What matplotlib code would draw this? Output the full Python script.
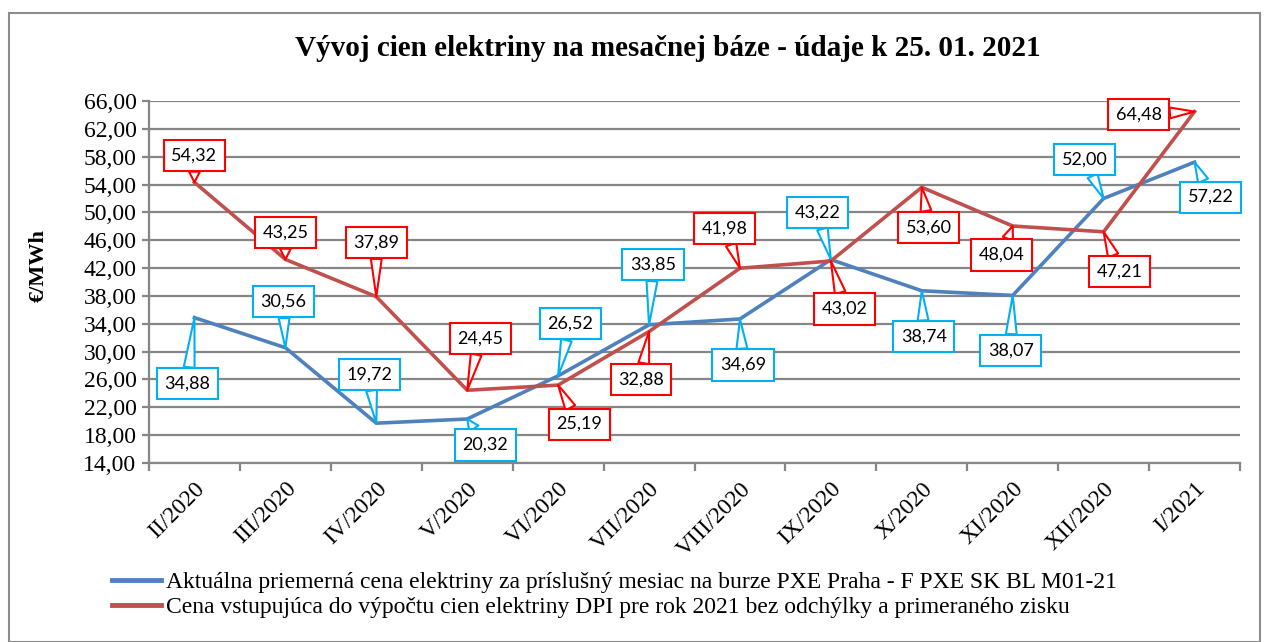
# Vyvoj cien elektriny - line chart with callout labels
import numpy as np
import matplotlib.pyplot as plt
from matplotlib.patches import Rectangle
from matplotlib.lines import Line2D

# Data
months = ['II/2020', 'III/2020', 'IV/2020', 'V/2020', 'VI/2020', 'VII/2020',
          'VIII/2020', 'IX/2020', 'X/2020', 'XI/2020', 'XII/2020', 'I/2021']
pxe_price = [34.88, 30.56, 19.72, 20.32, 26.52, 33.85, 34.69, 43.22, 38.74, 38.07, 52.00, 57.22]
dpi_price = [54.32, 43.25, 37.89, 24.45, 25.19, 32.88, 41.98, 43.02, 53.60, 48.04, 47.21, 64.48]
series_names = ['Aktuálna priemerná cena elektriny za príslušný mesiac na burze PXE Praha - F PXE SK BL M01-21',
                'Cena vstupujúca do výpočtu cien elektriny DPI pre rok 2021 bez odchýlky a primeraného zisku']
y_ticks = np.arange(14, 67, 4)

# callout offsets in pixels (label centre relative to point)
pxe_offsets = [(-7, -66), (-2, 46), (-7, 49), (18, -26), (12, 52), (4, 60),
               (3, -46), (-13, 47), (2, -46), (-2, -55), (-19, 39), (16, -35)]
dpi_offsets = [(0, 27), (0, 27), (0, 54), (13, 52), (21, -39), (-8, -48),
               (-15, 40), (14, -48), (7, -40), (-11, -29), (16, -40), (-56, -3)]

W, H = 1266, 642
fig = plt.figure(figsize=(W / 100, H / 100), dpi=100)
serif = 'Liberation Serif'
grid_col = '#868686'

# outer frame
fig.patches.append(Rectangle((9 / W, 0), 1251 / W, 1 - 13 / H, transform=fig.transFigure,
                             fill=False, ec='#8c8c8c', lw=1.5))

ax = fig.add_axes([149 / W, (H - 463) / H, (1240 - 149) / W, (463 - 101) / H])
x = np.arange(len(months))

ax.plot(x, pxe_price, color='#4F81BD', lw=2.6, zorder=3, solid_joinstyle='round')
ax.plot(x, dpi_price, color='#C0504D', lw=2.6, zorder=3, solid_joinstyle='round')

ax.set_ylim(14, 66)
ax.set_xlim(-0.5, len(months) - 0.5)
ax.set_yticks(y_ticks)
ax.set_yticklabels(['{:.2f}'.format(v).replace('.', ',') for v in y_ticks],
                   fontfamily=serif, fontsize=17)
ax.yaxis.grid(True, color=grid_col, lw=1.6)
ax.set_axisbelow(True)
ax.tick_params(axis='y', length=5, color=grid_col, width=1.6, pad=4)

ax.set_xticks(np.arange(-0.5, len(months), 1))
ax.set_xticklabels([])
ax.set_xticks(x, minor=True)
ax.set_xticklabels(months, minor=True, rotation=45, ha='right', va='top',
                   rotation_mode='anchor', fontfamily=serif, fontsize=17)
ax.tick_params(axis='x', which='major', length=6, color=grid_col, width=1.6, direction='out')
ax.tick_params(axis='x', which='minor', length=0, pad=11)

for s in ['top', 'right']:
    ax.spines[s].set_visible(False)
for s in ['left', 'bottom']:
    ax.spines[s].set_color(grid_col)
    ax.spines[s].set_linewidth(1.6)

fig.text(39 / W, 1 - 266 / H, '€/MWh', rotation=90, ha='center', va='center',
         fontfamily=serif, fontsize=16, fontweight='bold')


def callouts(values, offsets, color):
    for xi, (v, off) in enumerate(zip(values, offsets)):
        ax.annotate('{:.2f}'.format(v).replace('.', ','), xy=(xi, v),
                    xytext=off, textcoords='offset pixels',
                    ha='center', va='center', fontsize=13, fontfamily='Lato',
                    bbox=dict(boxstyle='square,pad=0.42', fc='white', ec=color, lw=1.5),
                    arrowprops=dict(arrowstyle='wedge,tail_width=0.6', fc='white',
                                    ec=color, lw=1.5, shrinkA=0, shrinkB=0),
                    zorder=5, annotation_clip=False)


callouts(pxe_price, pxe_offsets, '#00B0F0')
callouts(dpi_price, dpi_offsets, '#FF0000')

fig.text(668 / W, 1 - 48 / H, 'Vývoj cien elektriny na mesačnej báze - údaje k 25. 01. 2021',
         ha='center', va='center', fontfamily=serif, fontsize=21, fontweight='bold')

handles = [Line2D([], [], color='#4F81BD', lw=3.5), Line2D([], [], color='#C0504D', lw=3.5)]
fig.legend(handles, series_names, loc='upper left', bbox_to_anchor=(100 / W, 1 - 560 / H),
           frameon=False, prop={'family': serif, 'size': 17}, handlelength=2.1,
           handletextpad=0.2, labelspacing=0.15, borderpad=0)

fig.savefig('out.png', dpi=100)
